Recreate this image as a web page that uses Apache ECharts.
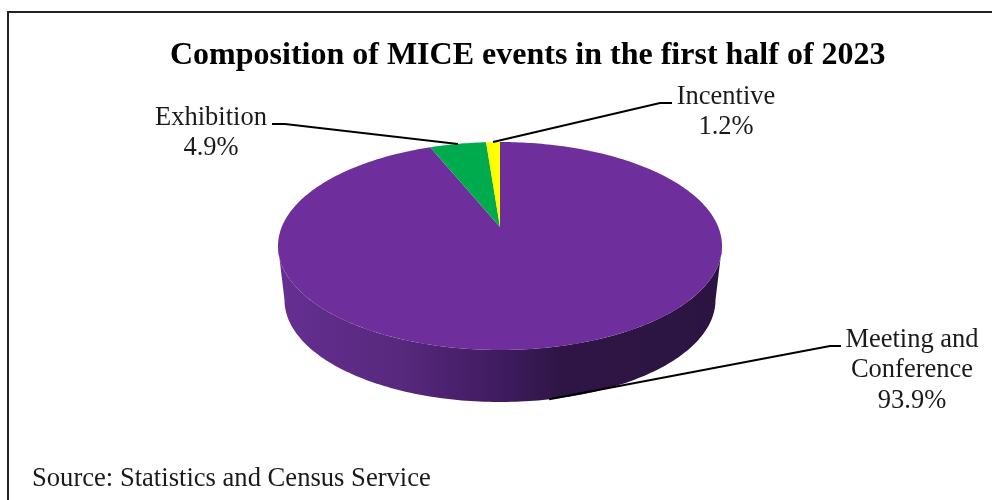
<!DOCTYPE html>
<html>
<head>
<meta charset="utf-8">
<style>html,body{margin:0;padding:0;background:#fff}#c{width:992px;height:500px}</style>
<script src="https://cdn.jsdelivr.net/npm/echarts@6/dist/echarts.min.js"></script>
</head>
<body>
<div id="c"></div>
<script>
var categories = ['Meeting and\nConference', 'Exhibition', 'Incentive'];
var shares = [93.9, 4.9, 1.2];
var colors = ['#6E2F9C', '#00AB4E', '#FFFF00'];
var titleText = 'Composition of MICE events in the first half of 2023';
var sourceText = 'Source: Statistics and Census Service';

// Layout only: the two planes of the tilted disc, and where each label sits.
var topPlane = {cx: 500, halfWidth: 222, top: 142, bottom: 350, k: 0.1827};
var basePlane = {cx: 500, halfWidth: 215.5, top: 198, bottom: 402, k: 0.1827};
var labelLayout = [
  {x: 912, y: 370.5, elbow: [830, 346], end: [841, 346], plane: basePlane},
  {x: 211, y: 133, elbow: [285, 124], end: [272, 124], plane: topPlane},
  {x: 726, y: 112, elbow: [660, 103], end: [672, 103], plane: topPlane}
];
var serif = '"Liberation Serif","Times New Roman",serif';

function planeCoef(p) {
  var b = (p.top * (1 + p.k) + p.bottom * (1 - p.k)) / 2;
  return {a: p.top * (1 + p.k) - b, b: b};
}
function project(frac, p) {
  var t = frac * 2 * Math.PI, u = Math.sin(t), v = Math.cos(t), c = planeCoef(p);
  var A = p.halfWidth * Math.sqrt(1 - p.k * p.k);
  var w = 1 + p.k * v;
  return [p.cx + A * u / w, (c.a * v + c.b) / w];
}
function arc(from, to, p) {
  var pts = [], n = Math.max(2, Math.ceil((to - from) * 360));
  for (var i = 0; i <= n; i++) pts.push(project(from + (to - from) * i / n, p));
  return pts;
}
var total = shares.reduce(function (s, x) { return s + x; }, 0);
var visFrom = Math.acos(-topPlane.k) / (2 * Math.PI), visTo = 1 - visFrom;

function renderSlice(params, api) {
  var i = params.dataIndex, start = 0;
  for (var j = 0; j < i; j++) start += shares[j] / total;
  var end = start + api.value(0) / total, mid = (start + end) / 2;
  var children = [];
  var wf = Math.max(start, visFrom), wt = Math.min(end, visTo);
  if (wt > wf) {
    children.push({
      type: 'polygon',
      shape: {points: arc(wf, wt, topPlane).concat(arc(wf, wt, basePlane).reverse())},
      style: {
        fill: new echarts.graphic.LinearGradient(278, 0, 722, 0, [
          {offset: 0, color: '#652F92'},
          {offset: 0.28, color: '#57287C'},
          {offset: 0.5, color: '#3F1B60'},
          {offset: 0.64, color: '#2E1545'},
          {offset: 1, color: '#2C1442'}
        ], true)
      }
    });
  }
  children.push({
    type: 'polygon',
    shape: {points: [[topPlane.cx, planeCoef(topPlane).b]].concat(arc(start, end, topPlane))},
    style: {fill: colors[i]}
  });
  var L = labelLayout[i];
  children.push({
    type: 'polyline',
    shape: {points: [project(mid, L.plane), L.elbow, L.end]},
    style: {stroke: '#000', lineWidth: 2, fill: null}
  });
  children.push({
    type: 'text',
    style: {
      x: L.x, y: L.y, text: categories[i] + '\n' + api.value(0).toFixed(1) + '%',
      font: '26.5px ' + serif, lineHeight: 30.5, fill: '#1a1a1a', align: 'center', verticalAlign: 'middle'
    }
  });
  return {type: 'group', children: children};
}

var chart = echarts.init(document.getElementById('c'), null, {renderer: 'canvas'});
chart.setOption({
  animation: false,
  backgroundColor: '#fff',
  title: [
    {text: titleText, left: 170, top: 40, padding: 0,
      textStyle: {fontFamily: serif, fontWeight: 'bold', fontSize: 32, color: '#000'}},
    {text: sourceText, left: 32, top: 466, padding: 0,
      textStyle: {fontFamily: serif, fontWeight: 'normal', fontSize: 26.6, color: '#1a1a1a'}}
  ],
  graphic: [{type: 'rect', shape: {x: 8, y: 12, width: 1000, height: 520}, style: {fill: 'none', stroke: '#222', lineWidth: 2}, z: 0}],
  series: [{
    type: 'custom',
    coordinateSystem: 'none',
    renderItem: renderSlice,
    data: shares.map(function (v, i) { return {name: categories[i], value: [v]}; })
  }]
});
</script>
</body>
</html>
